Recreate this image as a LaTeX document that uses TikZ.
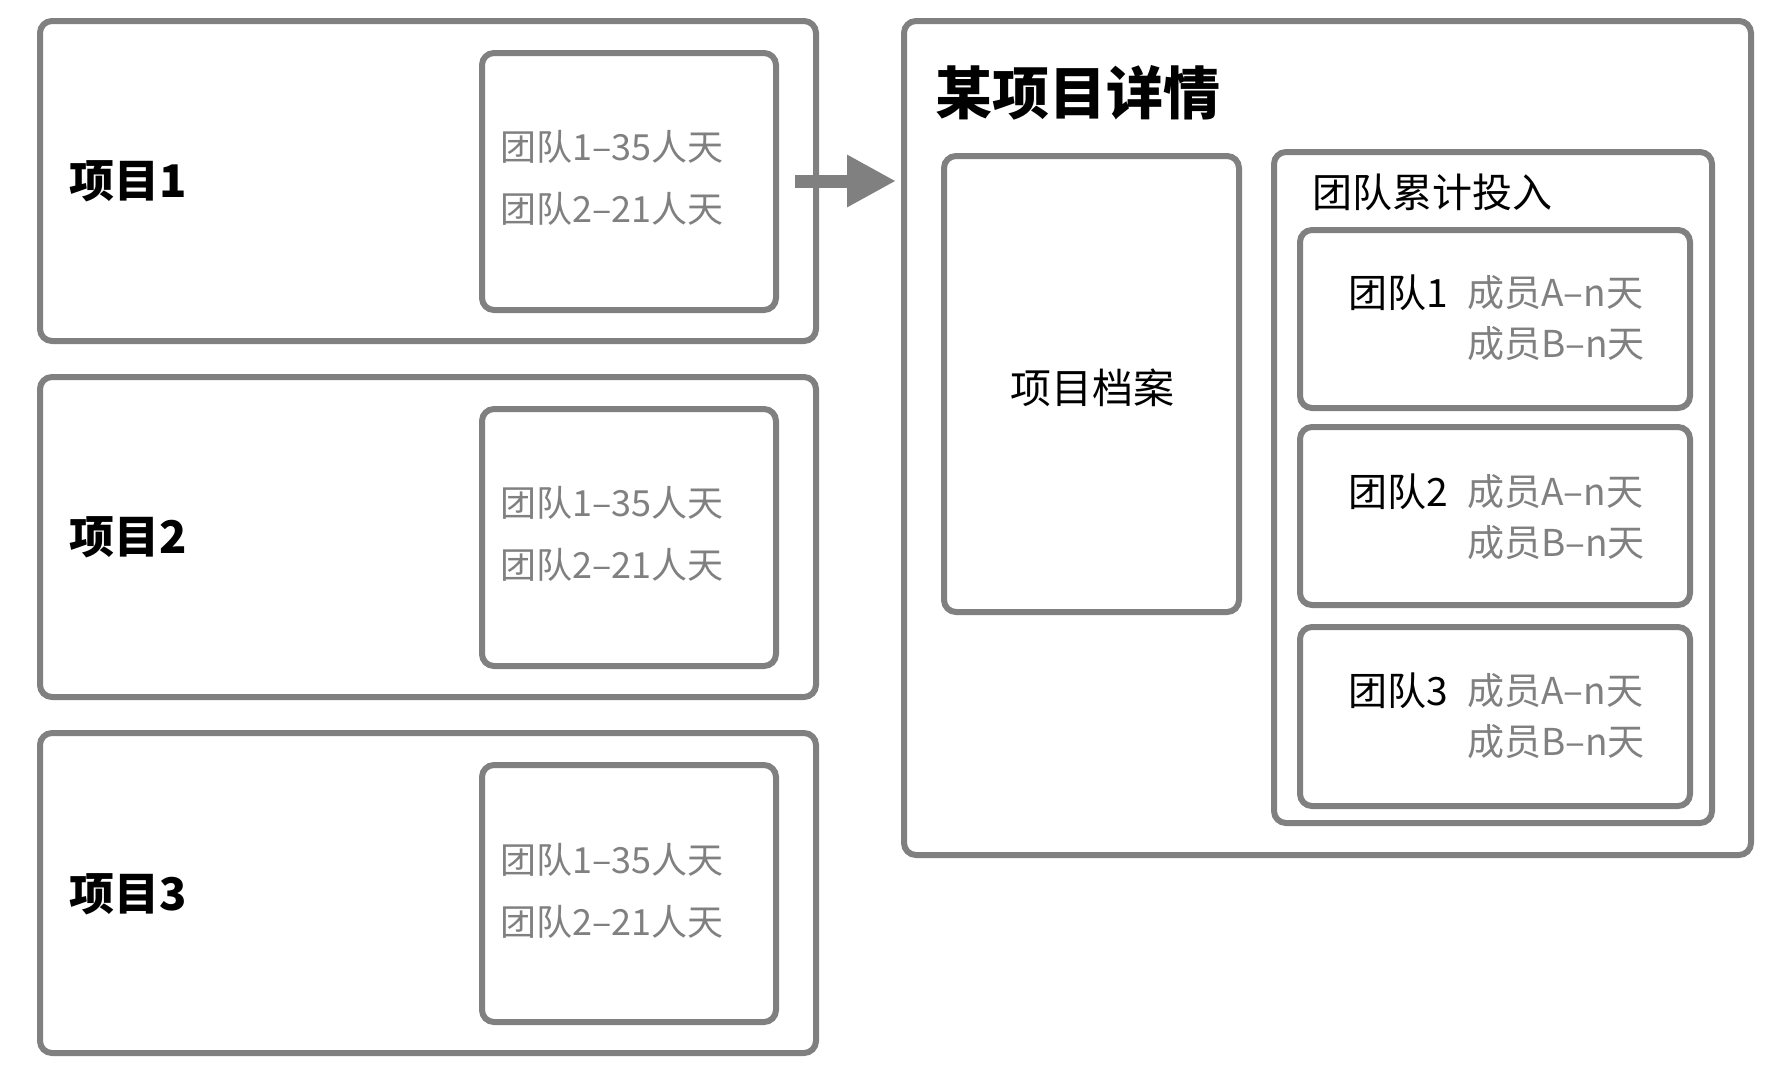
\documentclass[tikz,border=0pt]{standalone}
\usepackage{fontspec}
\setmainfont{Noto Sans CJK SC}
\usetikzlibrary{arrows.meta}
\definecolor{boxgray}{HTML}{808080}
\definecolor{txtgray}{HTML}{808080}
\tikzset{
  box/.style={draw=boxgray, line width=6pt, rounded corners=12pt, inner sep=0pt, outer sep=0pt, anchor=north west, fill=white},
  projlabel/.style={anchor=west, inner sep=0pt, font=\fontsize{45pt}{48pt}\selectfont\bfseries},
  graytext/.style={anchor=west, inner sep=0pt, text=txtgray, font=\fontsize{36pt}{40pt}\selectfont},
  blacktext/.style={anchor=west, inner sep=0pt, font=\fontsize{40pt}{44pt}\selectfont},
  membertext/.style={anchor=west, inner sep=0pt, text=txtgray, font=\fontsize{37pt}{40pt}\selectfont},
  bigarrow/.style={draw=boxgray, line width=13pt, -{Triangle[length=49pt,width=49pt]}, boxgray},
}
\begin{document}
\begin{tikzpicture}[x=1pt,y=-1pt]
\useasboundingbox (0,0) rectangle (1792,1072);
% left project boxes
\node[box, minimum width=776, minimum height=320] (p1) at (40,21) {};
\node[box, minimum width=776, minimum height=320] (p2) at (40,377) {};
\node[box, minimum width=776, minimum height=320] (p3) at (40,733) {};
\node[box, minimum width=294, minimum height=257] (i1) at (482,53) {};
\node[box, minimum width=294, minimum height=257] (i2) at (482,409) {};
\node[box, minimum width=294, minimum height=257] (i3) at (482,765) {};
\node[projlabel] (l1) at (69,181) {项目1};
\node[projlabel] (l2) at (69,537) {项目2};
\node[projlabel] (l3) at (69,894) {项目3};
\node[graytext] (a1) at (500,147) {团队1–35人天};
\node[graytext] (b1) at (500,209) {团队2–21人天};
\node[graytext] (a2) at (500,503) {团队1–35人天};
\node[graytext] (b2) at (500,565) {团队2–21人天};
\node[graytext] (a3) at (500,860) {团队1–35人天};
\node[graytext] (b3) at (500,922) {团队2–21人天};
% detail box
\node[box, minimum width=847, minimum height=834] (detail) at (904,21) {};
\node[anchor=west, inner sep=0pt, font=\fontsize{57pt}{60pt}\selectfont\bfseries] (title) at (935,93) {某项目详情};
\node[box, minimum width=295, minimum height=456] (archive) at (944,156) {};
\node[inner sep=0pt, font=\fontsize{41pt}{44pt}\selectfont] (archtxt) at (1092,388) {项目档案};
\node[box, minimum width=438, minimum height=671] (teams) at (1274,152) {};
\node[blacktext] (teamstitle) at (1312,192) {团队累计投入};
\node[box, minimum width=390, minimum height=178] (t1) at (1300,230) {};
\node[box, minimum width=390, minimum height=178] (t2) at (1300,427) {};
\node[box, minimum width=390, minimum height=179] (t3) at (1300,627) {};
\node[blacktext, font=\fontsize{39pt}{42pt}\selectfont] (tl1) at (1348,293) {团队1};
\node[blacktext, font=\fontsize{39pt}{42pt}\selectfont] (tl2) at (1348,492) {团队2};
\node[blacktext, font=\fontsize{39pt}{42pt}\selectfont] (tl3) at (1348,691) {团队3};
\node[membertext] (ma1) at (1467,293) {成员A–n天};
\node[membertext] (mb1) at (1467,344) {成员B–n天};
\node[membertext] (ma2) at (1467,492) {成员A–n天};
\node[membertext] (mb2) at (1467,543) {成员B–n天};
\node[membertext] (ma3) at (1467,691) {成员A–n天};
\node[membertext] (mb3) at (1467,742) {成员B–n天};
% arrow
\draw[bigarrow] ([xshift=-21pt]p1.east) -- ([xshift=-8pt]detail.west |- p1.east);
\end{tikzpicture}
\end{document}
